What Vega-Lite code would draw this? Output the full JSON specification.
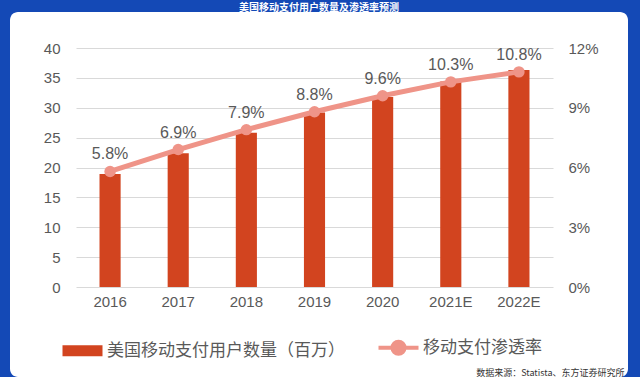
{
  "$schema": "https://vega.github.io/schema/vega-lite/v6.json",
  "width": 618,
  "height": 365,
  "autosize": {"type": "none"},
  "padding": {"left": 10, "top": 12, "right": 12, "bottom": 0},
  "background": "#1449b6",
  "view": {"fill": "white", "stroke": null, "cornerRadius": 8},
  "title": {
    "text": "美国移动支付用户数量及渗透率预测",
    "color": "white",
    "fontSize": 10,
    "fontWeight": "bold",
    "font": "Noto Sans CJK SC",
    "baseline": "bottom",
    "offset": 0,
    "dy": 11,
    "anchor": "middle"
  },
  "data": {
    "values": [
      {"year": "2016", "users": 18.9, "rate": 0.058},
      {"year": "2017", "users": 22.4, "rate": 0.069},
      {"year": "2018", "users": 25.8, "rate": 0.079},
      {"year": "2019", "users": 29.2, "rate": 0.088},
      {"year": "2020", "users": 31.8, "rate": 0.096},
      {"year": "2021E", "users": 34.4, "rate": 0.103},
      {"year": "2022E", "users": 36.3, "rate": 0.108}
    ]
  },
  "encoding": {
    "x": {
      "field": "year",
      "type": "ordinal",
      "sort": null,
      "scale": {"range": [66, 543], "paddingInner": 0.69, "paddingOuter": 0.345},
      "axis": {
        "orient": "bottom",
        "offset": -90,
        "domain": false,
        "ticks": false,
        "grid": false,
        "labelAngle": 0,
        "labelPadding": 7,
        "labelFont": "Liberation Sans",
        "labelFontSize": 15,
        "labelColor": "#595959",
        "title": "数据来源：Statista、东方证券研究所",
        "titleFont": "Noto Sans CJK SC",
        "titleFontSize": 9,
        "titleFontWeight": "normal",
        "titleColor": "#333333",
        "titleAlign": "right",
        "titleAnchor": null,
        "titleX": 614,
        "titleY": 88,
        "titleBaseline": "alphabetic"
      }
    }
  },
  "layer": [
    {
      "mark": {"type": "bar", "color": "#d2441f"},
      "encoding": {
        "y": {
          "field": "users",
          "type": "quantitative",
          "scale": {"domain": [0, 40], "range": [275, 36], "nice": false, "zero": true},
          "axis": {
            "orient": "left",
            "offset": -65,
            "values": [0, 5, 10, 15, 20, 25, 30, 35, 40],
            "format": "d",
            "domain": false,
            "ticks": false,
            "grid": true,
            "gridColor": "#d9d9d9",
            "gridWidth": 1.2,
            "labelPadding": 15,
            "labelFont": "Liberation Sans",
            "labelFontSize": 15,
            "labelColor": "#595959",
            "title": null
          }
        },
        "color": {
          "datum": "美国移动支付用户数量（百万）",
          "scale": {
            "domain": ["美国移动支付用户数量（百万）", "移动支付渗透率"],
            "range": ["#d2441f", "#ef9488"]
          },
          "legend": {
            "orient": "none",
            "legendX": 64,
            "legendY": 327,
            "direction": "horizontal",
            "title": null,
            "padding": 0,
            "labelFont": "Noto Sans CJK SC",
            "labelFontSize": 17,
            "labelColor": "#595959",
            "labelLimit": 400,
            "labelOffset": 16,
            "columnPadding": 25,
            "symbolSize": 1600,
            "encode": {
              "symbols": {
                "update": {
                  "shape": {"signal": "datum.value === '移动支付渗透率' ? 'M-1,0H1M-0.3,0A0.3,0.3 0 1,0 0.3,0A0.3,0.3 0 1,0 -0.3,0Z' : 'M-1,-0.28H1V0.28H-1Z'"},
                  "fill": {"signal": "datum.value === '移动支付渗透率' ? '#ef9488' : '#d2441f'"},
                  "stroke": {"signal": "datum.value === '移动支付渗透率' ? '#ef9488' : '#d2441f'"},
                  "strokeWidth": {"signal": "datum.value === '移动支付渗透率' ? 4 : 0"},
                  "opacity": {"value": 1}
                }
              }
            }
          }
        }
      }
    },
    {
      "encoding": {
        "y": {
          "field": "rate",
          "type": "quantitative",
          "scale": {"domain": [0, 0.12], "range": [275, 36], "nice": false},
          "axis": {
            "orient": "right",
            "offset": -76,
            "values": [0, 0.03, 0.06, 0.09, 0.12],
            "format": ".0%",
            "domain": false,
            "ticks": false,
            "grid": false,
            "labelPadding": 16,
            "labelFont": "Liberation Sans",
            "labelFontSize": 15,
            "labelColor": "#595959",
            "title": null
          }
        }
      },
      "layer": [
        {
          "mark": {"type": "line", "strokeWidth": 5},
          "encoding": {"color": {"datum": "移动支付渗透率"}}
        },
        {
          "mark": {"type": "point", "filled": true, "size": 130, "opacity": 1},
          "encoding": {"color": {"datum": "移动支付渗透率"}}
        },
        {
          "mark": {"type": "text", "baseline": "bottom", "dy": -9, "font": "Liberation Sans", "fontSize": 16, "color": "#595959"},
          "encoding": {"text": {"field": "rate", "type": "quantitative", "format": ".1%"}}
        }
      ]
    }
  ],
  "resolve": {"scale": {"y": "independent"}}
}
